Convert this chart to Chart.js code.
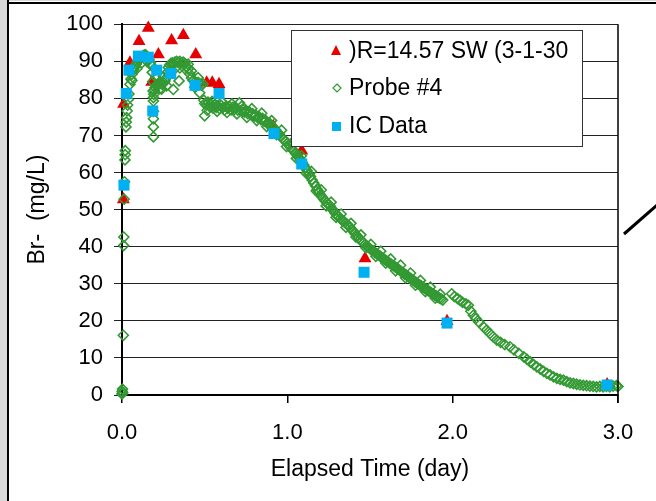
<!DOCTYPE html>
<html>
<head>
<meta charset="utf-8">
<script src="https://cdn.jsdelivr.net/npm/chart.js@4"></script>
<style>
    body { margin: 0; background: #fff; }
    canvas { display: block; }
</style>
</head>
<body>
<canvas id="chart" width="656" height="501"></canvas>
<script>
// red triangles: )R=14.57 SW (3-1-30
var redT = [0.008, 0.010, 0.048, 0.103, 0.159, 0.180, 0.220, 0.300, 0.371, 0.446, 0.512, 0.546, 0.587, 0.915, 1.087, 1.470, 1.966, 2.934];
var redV = [52.7, 78.5, 89.6, 95.4, 99.0, 84.4, 91.8, 95.6, 97.0, 91.8, 84.2, 84.2, 83.8, 72.5, 65.9, 36.8, 19.9, 2.8];

// blue squares: IC Data
var icT = [0.012, 0.026, 0.042, 0.099, 0.159, 0.186, 0.210, 0.295, 0.442, 0.587, 0.919, 1.087, 1.464, 1.966, 2.934];
var icV = [56.6, 81.3, 87.6, 91.4, 91.1, 76.6, 87.6, 86.7, 83.5, 81.3, 70.5, 62.3, 33.1, 19.4, 2.7];

// green diamonds: Probe #4
var probeT = [
    0.000, 0.001, 0.003, 0.004, 0.008, 0.010, 0.011, 0.013, 0.015, 0.018, 0.019, 0.020,
    0.024, 0.026, 0.028, 0.031, 0.034, 0.038, 0.042, 0.048, 0.054, 0.060, 0.066, 0.072,
    0.078, 0.085, 0.092, 0.100, 0.108, 0.116, 0.124, 0.132, 0.140, 0.148, 0.156, 0.164,
    0.172, 0.178, 0.183, 0.186, 0.188, 0.190, 0.190, 0.190, 0.190, 0.190, 0.190, 0.192,
    0.196, 0.200, 0.206, 0.212, 0.220, 0.228, 0.236, 0.244, 0.252, 0.260, 0.268, 0.274,
    0.280, 0.288, 0.296, 0.304, 0.312, 0.320, 0.330, 0.340, 0.350, 0.360, 0.370, 0.380,
    0.390, 0.400, 0.410, 0.420, 0.430, 0.440, 0.450, 0.460, 0.470, 0.480, 0.490,
    0.310, 0.345, 0.240, 0.470, 0.500,
    0.060, 0.090, 0.120, 0.150, 0.210, 0.230, 0.250, 0.270, 0.290, 0.320, 0.350, 0.380,
    0.400, 0.420, 0.440, 0.460,
    0.495, 0.500, 0.510, 0.520, 0.530, 0.540, 0.550, 0.560, 0.570, 0.580, 0.590, 0.600,
    0.610, 0.620, 0.630, 0.640, 0.650, 0.660, 0.670, 0.680, 0.690, 0.700, 0.710, 0.720,
    0.730, 0.740, 0.750, 0.760, 0.770, 0.780, 0.790, 0.800, 0.810, 0.820, 0.830, 0.840,
    0.850, 0.860, 0.870, 0.880, 0.890, 0.900, 0.910, 0.920, 0.930, 0.940, 0.950, 0.960,
    0.970, 0.980, 0.990, 1.000, 1.010, 1.020, 1.030, 1.040, 1.050, 1.060, 1.070, 1.080,
    1.090, 1.100, 1.110, 1.120, 1.130, 1.140, 1.150, 1.160, 1.170, 1.180, 1.190, 1.200,
    1.210, 1.220, 1.230, 1.240, 1.250, 1.260, 1.270, 1.280, 1.290, 1.300, 1.310, 1.320,
    1.330, 1.340, 1.350, 1.360, 1.370, 1.380, 1.390, 1.400, 1.410, 1.420, 1.430, 1.440,
    1.450, 1.460, 1.470, 1.480, 1.490, 1.500, 1.510, 1.520, 1.530, 1.540, 1.550, 1.560,
    1.570, 1.580, 1.590, 1.600, 1.610, 1.620, 1.630, 1.640, 1.650, 1.660, 1.670, 1.680,
    1.690, 1.700, 1.710, 1.720, 1.730, 1.740, 1.750, 1.760, 1.770, 1.780, 1.790, 1.800,
    1.810, 1.820, 1.830, 1.840, 1.850, 1.860, 1.870, 1.880, 1.890, 1.900, 1.910, 1.920,
    1.930, 1.940,
    0.515, 0.545, 0.575, 0.605, 0.635, 0.665, 0.695, 0.725, 0.755, 0.785, 0.815, 0.845,
    0.875, 0.905, 0.935, 0.965, 0.995, 1.025, 1.055, 1.085, 1.115, 1.145, 1.175, 1.205,
    1.235, 1.265, 1.295, 1.325, 1.355, 1.385, 1.415, 1.445, 1.475, 1.505, 1.535, 1.565,
    1.595, 1.625, 1.655, 1.685, 1.715, 1.745, 1.775, 1.805, 1.835, 1.865, 1.895, 1.925,
    1.994, 2.010, 2.030, 2.045, 2.060, 2.080, 2.095, 2.110, 2.125, 2.140, 2.160, 2.186,
    2.205, 2.225, 2.245, 2.267, 2.290, 2.315, 2.347, 2.370, 2.400, 2.430, 2.450, 2.470,
    2.490, 2.509, 2.530, 2.550, 2.570, 2.589, 2.610, 2.630, 2.650, 2.670, 2.690, 2.710,
    2.730, 2.750, 2.770, 2.790, 2.810, 2.830, 2.850, 2.870, 2.890, 2.910, 2.930, 2.950,
    2.970, 2.990, 3.000
];
var probeV = [
    0.3, 1.0, 1.6, 0.6, 16.1, 40.3, 42.6, 52.8, 57.5, 63.4, 64.8, 65.9,
    72.3, 73.6, 74.8, 76.6, 78.2, 79.7, 81.2, 83.8, 85.2, 86.5, 87.4, 87.9,
    88.6, 89.2, 89.8, 90.2, 90.6, 91.0, 91.3, 91.6, 91.8, 91.5, 91.0, 90.4,
    89.6, 88.8, 87.0, 84.5, 82.0, 80.2, 79.3, 76.5, 74.5, 72.3, 69.6, 81.1,
    82.2, 82.9, 83.4, 83.8, 84.0, 84.3, 84.0, 83.8, 84.2, 84.7, 85.5, 87.0,
    88.3, 89.0, 89.4, 89.6, 89.3, 89.8, 90.0, 89.7, 90.0, 89.6, 89.8, 89.4,
    88.6, 87.9, 86.6, 85.5, 84.8, 84.4, 84.0, 84.3, 84.0, 83.6, 83.9,
    82.4, 84.7, 82.5, 81.5, 75.3,
    84.8, 88.0, 89.6, 90.0, 85.5, 82.6, 85.8, 83.4, 87.6, 88.0, 88.2, 88.0,
    89.2, 87.4, 83.0, 85.6,
    79.5, 78.6, 78.2, 79.0, 77.8, 78.4, 77.4, 78.3, 77.6, 78.0, 77.2, 78.1,
    77.5, 76.8, 77.9, 77.3, 77.8, 76.9, 77.6, 77.0, 77.4, 76.8, 78.8, 76.6,
    77.0, 76.3, 76.7, 75.9, 76.4, 75.6, 75.9, 75.2, 75.5, 74.8, 75.0, 74.3,
    74.6, 73.8, 74.0, 73.2, 73.4, 72.6, 72.5, 71.8, 71.5, 70.8, 70.4, 69.8,
    69.3, 68.8, 68.4, 67.9, 67.3, 66.8, 66.2, 65.8, 65.1, 64.7, 64.0, 63.4,
    62.7, 62.0, 61.2, 60.5, 59.6, 58.9, 58.0, 57.2, 56.4, 55.5, 54.8, 54.0,
    53.4, 52.8, 52.3, 51.8, 51.3, 50.9, 50.2, 49.6, 49.0, 48.5, 48.1, 47.6,
    47.2, 46.8, 46.5, 46.1, 45.6, 45.2, 44.6, 44.1, 43.5, 43.0, 42.4, 41.9,
    41.5, 41.0, 40.6, 40.2, 39.8, 39.5, 39.1, 38.8, 38.4, 38.1, 37.8, 37.5,
    37.1, 36.8, 36.5, 36.2, 35.9, 35.5, 35.2, 34.9, 34.6, 34.3, 34.0, 33.6,
    33.3, 33.0, 32.6, 32.3, 32.0, 31.6, 31.3, 31.0, 30.6, 30.3, 30.0, 29.7,
    29.4, 29.1, 28.8, 28.5, 28.2, 27.9, 27.6, 27.3, 27.0, 26.7, 26.4, 26.1,
    25.9, 25.6,
    76.8, 79.2, 76.5, 79.0, 76.2, 78.5, 75.8, 77.9, 74.9, 77.2, 74.0, 76.0,
    72.4, 74.0, 70.2, 71.4, 67.0, 67.9, 63.8, 64.5, 59.8, 60.3, 55.0, 55.3,
    51.0, 52.0, 47.9, 48.8, 45.2, 46.3, 42.6, 43.2, 39.7, 40.6, 37.4, 38.8,
    35.6, 36.7, 33.5, 35.0, 31.6, 32.9, 29.6, 30.9, 27.9, 29.1, 26.1, 27.2,
    27.3, 26.5, 26.0, 25.5, 25.0, 24.6, 24.2, 22.6, 21.5, 20.6, 19.6, 18.4,
    17.5, 16.6, 15.7, 14.8, 14.2, 13.6, 13.0, 12.2, 11.2, 10.3, 9.6, 8.9,
    8.2, 7.6, 7.0, 6.4, 5.8, 5.4, 4.9, 4.5, 4.2, 4.0, 3.6, 3.3,
    3.1, 2.9, 2.7, 2.6, 2.5, 2.4, 2.3, 2.2, 2.3, 2.2, 2.3, 2.2,
    2.4, 2.5, 2.3
];

var legendLabels = [")R=14.57 SW (3-1-30", "Probe #4", "IC Data"];

var RED = "#e60000";
var GREEN = "#339933";
var BLUE = "#00b0f0";
var FONT = "'Liberation Sans', Arial, sans-serif";

function pts(xs, ys) {
    return xs.map(function (x, i) { return {x: x, y: ys[i]}; });
}

// page frame, right border of the plot and the legend box
var framePlugin = {
    id: "frame",
    beforeDraw: function (chart) {
        var ctx = chart.ctx;
        ctx.save();
        ctx.fillStyle = "#fff";
        ctx.fillRect(0, 0, 656, 501);
        ctx.fillStyle = "#d9d9d9";
        ctx.fillRect(0, 0, 7, 501);
        ctx.fillRect(0, 0, 656, 1);
        ctx.strokeStyle = "#000";
        ctx.lineWidth = 2;
        ctx.beginPath();
        ctx.moveTo(8, 0);
        ctx.lineTo(8, 501);
        ctx.moveTo(8, 3);
        ctx.lineTo(656, 3);
        ctx.stroke();
        ctx.lineWidth = 3;
        ctx.beginPath();
        ctx.moveTo(624, 234);
        ctx.lineTo(657, 205);
        ctx.stroke();
        ctx.restore();
    },
    afterDraw: function (chart) {
        var ctx = chart.ctx;
        var a = chart.chartArea;
        ctx.save();
        ctx.strokeStyle = "#000";
        ctx.lineWidth = 1.5;
        ctx.beginPath();
        ctx.moveTo(a.right, a.top);
        ctx.lineTo(a.right, a.bottom + 8);
        ctx.stroke();

        // legend
        ctx.fillStyle = "#fff";
        ctx.fillRect(291, 30, 291, 116);
        ctx.strokeStyle = "#333";
        ctx.lineWidth = 1;
        ctx.strokeRect(291.5, 30.5, 291, 116);
        var ys = [51, 88, 126];
        // triangle
        ctx.fillStyle = RED;
        ctx.beginPath();
        ctx.moveTo(336, ys[0] - 6);
        ctx.lineTo(341, ys[0] + 4);
        ctx.lineTo(331, ys[0] + 4);
        ctx.closePath();
        ctx.fill();
        // diamond
        ctx.strokeStyle = GREEN;
        ctx.lineWidth = 1.2;
        ctx.beginPath();
        ctx.moveTo(337, ys[1] - 4);
        ctx.lineTo(341, ys[1]);
        ctx.lineTo(337, ys[1] + 4);
        ctx.lineTo(333, ys[1]);
        ctx.closePath();
        ctx.stroke();
        // square
        ctx.fillStyle = BLUE;
        ctx.fillRect(332, ys[2] - 4, 9, 9);

        ctx.fillStyle = "#000";
        ctx.font = "23px " + FONT;
        ctx.textBaseline = "middle";
        for (var i = 0; i < legendLabels.length; i++) {
            ctx.fillText(legendLabels[i], 349, ys[i] + 1);
        }
        ctx.restore();
    }
};

var ctx = document.getElementById("chart").getContext("2d");

var chart = new Chart(ctx, {
    type: "scatter",
    data: {
        datasets: [{
            label: legendLabels[0],
            data: pts(redT, redV),
            pointStyle: "triangle",
            pointRadius: 7.5,
            backgroundColor: RED,
            borderColor: RED,
            borderWidth: 0,
            order: 3,
            clip: false
        }, {
            label: legendLabels[1],
            data: pts(probeT, probeV),
            pointStyle: "rectRot",
            pointRadius: 5,
            backgroundColor: "rgba(0,0,0,0)",
            borderColor: GREEN,
            borderWidth: 1.6,
            order: 2,
            clip: false
        }, {
            label: legendLabels[2],
            data: pts(icT, icV),
            pointStyle: "rect",
            pointRadius: 7.8,
            backgroundColor: BLUE,
            borderColor: BLUE,
            borderWidth: 0,
            order: 1,
            clip: false
        }]
    },
    options: {
        responsive: false,
        animation: false,
        devicePixelRatio: 1,
        layout: {padding: {left: 0, top: 23, right: 38, bottom: 0}},
        plugins: {
            legend: {display: false},
            tooltip: {enabled: false}
        },
        scales: {
            x: {
                type: "linear",
                min: 0,
                max: 3,
                afterFit: function (scale) { scale.height = 106; },
                ticks: {
                    stepSize: 1,
                    padding: 17,
                    color: "#000",
                    font: {family: FONT, size: 22},
                    callback: function (v) { return v.toFixed(1); }
                },
                grid: {drawOnChartArea: false, drawTicks: true, tickLength: 8, color: "#000", lineWidth: 1.5},
                border: {display: true, color: "#000", width: 2},
                title: {
                    display: true,
                    text: "Elapsed Time (day)",
                    color: "#000",
                    font: {family: FONT, size: 23},
                    padding: {top: 0, bottom: 18}
                }
            },
            y: {
                min: 0,
                max: 100,
                afterFit: function (scale) { scale.width = 122; },
                ticks: {
                    stepSize: 10,
                    padding: 11,
                    color: "#000",
                    font: {family: FONT, size: 22}
                },
                grid: {color: "#222", lineWidth: 1, tickLength: 8},
                border: {display: true, color: "#000", width: 2},
                title: {
                    display: true,
                    text: "Br-  (mg/L)",
                    color: "#000",
                    font: {family: FONT, size: 23},
                    padding: {top: 24, bottom: 0}
                }
            }
        }
    },
    plugins: [framePlugin]
});
</script>
</body>
</html>
